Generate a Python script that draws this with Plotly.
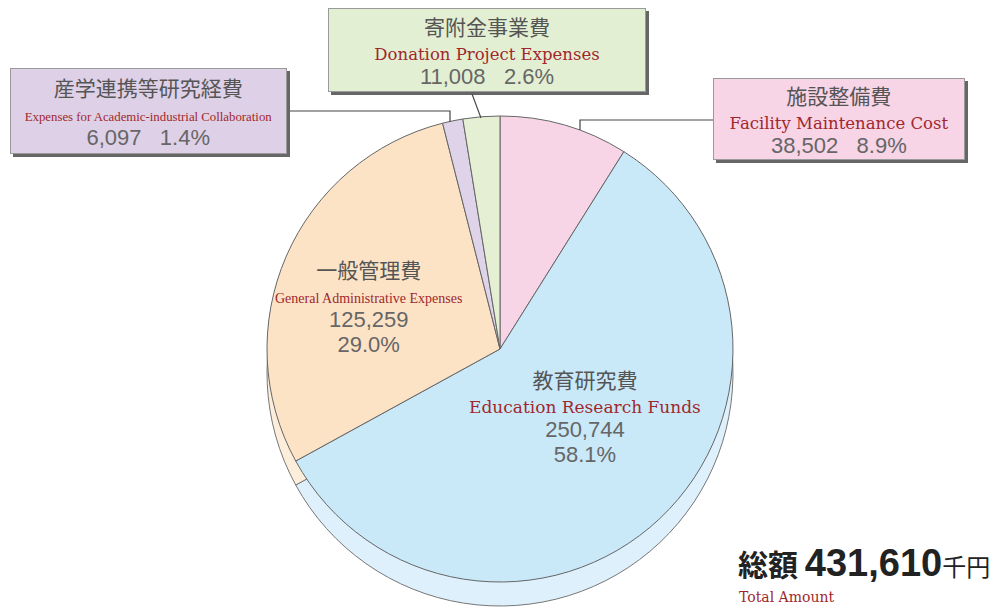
import plotly.graph_objects as go

# ---- data ----
labels_jp = ["施設整備費", "教育研究費", "一般管理費", "産学連携等研究経費", "寄附金事業費"]
labels_en = ["Facility Maintenance Cost", "Education Research Funds",
             "General Administrative Expenses", "Expenses for Academic-industrial Collaboration",
             "Donation Project Expenses"]
values = [38502, 250744, 125259, 6097, 11008]
percents = ["8.9%", "58.1%", "29.0%", "1.4%", "2.6%"]
total_value = "431,610"

colors_top = ["#F8D5E6", "#C9E8F8", "#FCE3C6", "#DFD3EA", "#E4EFD3"]
colors_rim = ["#FBE6F0", "#DDF0FB", "#FDEEDC", "#ECE4F2", "#EEF5E3"]

W, H = 1008, 608
OFF = 8  # page body margin offset


def px(x):
    return (x - OFF) / W


def py(y):
    return 1 - (y - OFF) / H


R = 233
CX, CY = 500, 349
DEPTH = 24

fig = go.Figure()
# rim (depth) pie
fig.add_trace(go.Pie(
    values=values, labels=labels_en, sort=False, direction="clockwise", rotation=0,
    marker=dict(colors=colors_rim, line=dict(color="#777777", width=1)),
    textinfo="none", hoverinfo="skip", showlegend=False,
    domain=dict(x=[px(CX - R), px(CX + R)], y=[py(CY + DEPTH + R), py(CY + DEPTH - R)]),
))
# top pie
fig.add_trace(go.Pie(
    values=values, labels=labels_en, sort=False, direction="clockwise", rotation=0,
    marker=dict(colors=colors_top, line=dict(color="#666666", width=1)),
    textinfo="none", hoverinfo="label+value+percent", showlegend=False,
    domain=dict(x=[px(CX - R), px(CX + R)], y=[py(CY + R), py(CY - R)]),
))

RED = "#A0282D"
GRAY = "#555555"
JPF = "Noto Sans CJK JP"
NUMF = "Liberation Sans"


def label_text(i, en_font, en_size, split_num=False):
    num = f"{values[i]:,}"
    sep = "<br>" if split_num else "&nbsp;&nbsp;&nbsp;"
    return (f"<span style='font-size:21px'>{labels_jp[i]}</span><br>"
            f"<span style='font-family:{en_font};font-size:{en_size}px;color:{RED}'>{labels_en[i]}</span><br>"
            f"<span style='font-family:{NUMF};font-size:22px;color:#666666'>{num}{sep}{percents[i]}</span>")


annotations = []
shapes = []


def box(i, cx, cy, w, h, en_font, en_size, bg):
    t = label_text(i, en_font, en_size)
    bw, bh = w + 2, h + 2
    shapes.append(dict(type="rect", xref="paper", yref="paper",
                       x0=px(cx - bw / 2 + 3), x1=px(cx + bw / 2 + 3),
                       y0=py(cy + bh / 2 + 3), y1=py(cy - bh / 2 + 3),
                       fillcolor="#666666", line=dict(width=0), layer="above"))
    annotations.append(dict(
        text=t, x=px(cx), y=py(cy), xref="paper", yref="paper", showarrow=False,
        xanchor="center", yanchor="middle", width=w, height=h,
        bgcolor=bg, bordercolor="#9a9a9a", borderwidth=1, borderpad=0,
        font=dict(family=JPF, size=18.5, color=GRAY)))


box(3, 148.5, 111, 275, 84, "Liberation Serif", 12.8, "#DED0E6")
box(4, 487, 50, 316, 82, "DejaVu Serif", 16.5, "#E3EFD2")
box(0, 839, 119, 250, 80, "DejaVu Serif", 16.5, "#F7D4E6")

# inside labels
annotations.append(dict(
    text=label_text(2, "Liberation Serif", 14, split_num=True),
    x=px(368), y=py(306), xref="paper", yref="paper", showarrow=False,
    xanchor="center", yanchor="middle", font=dict(family=JPF, size=19, color=GRAY)))
annotations.append(dict(
    text=label_text(1, "DejaVu Serif", 17, split_num=True),
    x=px(585), y=py(415), xref="paper", yref="paper", showarrow=False,
    xanchor="center", yanchor="middle", font=dict(family=JPF, size=19, color=GRAY)))

# total
annotations.append(dict(
    text=f"<b>総額 <span style='font-family:{NUMF};font-size:38px'>{total_value}</span></b>"
         f"<span style='font-size:24px'>千円</span>",
    x=px(736), y=py(563), xref="paper", yref="paper", showarrow=False,
    xanchor="left", yanchor="middle", font=dict(family=JPF, size=30, color="#222222")))
annotations.append(dict(
    text="Total Amount", x=px(737), y=py(597), xref="paper", yref="paper", showarrow=False,
    xanchor="left", yanchor="middle", font=dict(family="DejaVu Serif", size=14, color=RED)))


# leader lines
def path(points):
    d = "M " + " L ".join(f"{px(x)},{py(y)}" for x, y in points)
    return dict(type="path", path=d, xref="paper", yref="paper",
                line=dict(color="#444444", width=1.2), layer="above")


shapes += [
    path([(290, 111), (450, 111), (450, 122)]),
    path([(472, 94), (481, 118)]),
    path([(713, 120), (580, 120), (580, 130)]),
]

fig.update_layout(
    width=W, height=H, margin=dict(l=0, r=0, t=0, b=0),
    paper_bgcolor="white", plot_bgcolor="white",
    annotations=annotations, shapes=shapes,
)

fig.write_html("out.html")
